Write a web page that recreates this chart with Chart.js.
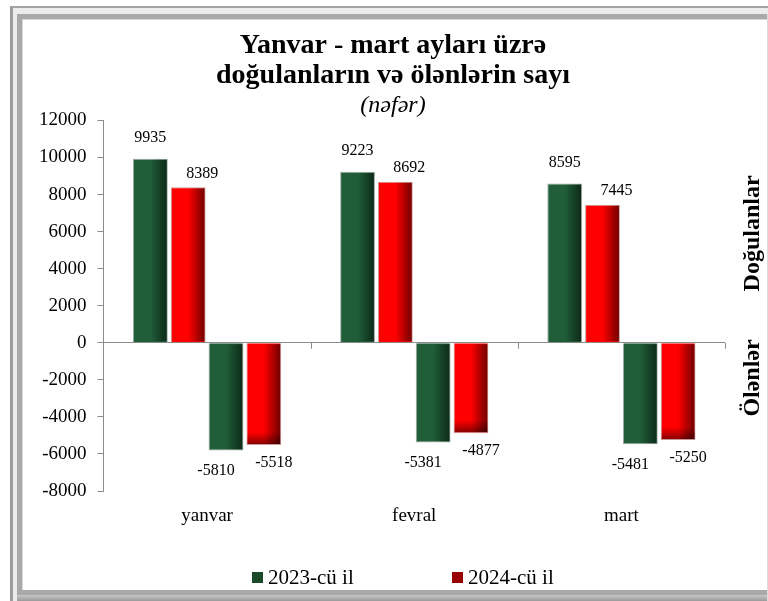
<!DOCTYPE html>
<html>
<head>
<meta charset="utf-8">
<script src="https://cdn.jsdelivr.net/npm/chart.js@4/dist/chart.umd.min.js"></script>
<style>
  html, body { margin: 0; padding: 0; background: #ffffff; width: 768px; height: 601px; overflow: hidden; }
  .outer { position: absolute; left: 10px; top: 6px; width: 780px; height: 610px; box-sizing: border-box;
           border-left: 3px solid #9c9c9c; border-top: 2px solid #a4a4a4; background: #ececec; }
  .inner { position: absolute; left: 17px; top: 14px; width: 760px; height: 581px; box-sizing: border-box;
           border: 5px solid #a9a9a9; background: #ffffff;
           box-shadow: inset 1px 1px 0 #d6d6d6; }
  .edge  { position: absolute; right: 0; top: 14px; width: 1px; height: 587px; background: #dcdcdc; }
  .bottom { position: absolute; left: 17px; top: 595px; width: 760px; height: 6px; background: linear-gradient(#c8c8c8, #9a9a9a); }
  #wrap { position: absolute; left: 0; top: 0; width: 768px; height: 601px; }
</style>
</head>
<body>
<div class="outer"></div>
<div class="inner"></div>
<div class="bottom"></div>
<div class="edge"></div>
<div id="wrap"><canvas id="c"></canvas></div>
<script>
// ---- data ----
const CATEGORIES = ['yanvar', 'fevral', 'mart'];
const BIRTHS_2023 = [9935, 9223, 8595];
const BIRTHS_2024 = [8389, 8692, 7445];
const DEATHS_2023 = [-5810, -5381, -5481];
const DEATHS_2024 = [-5518, -4877, -5250];
const SERIES_LABELS = ['2023-cü il', '2024-cü il'];
const TITLE_LINES = ['Yanvar - mart ayları üzrə', 'doğulanların və ölənlərin sayı'];
const SUBTITLE = '(nəfər)';
const SIDE_LABELS = ['Doğulanlar', 'Ölənlər'];
const Y_MIN = -8000, Y_MAX = 12000, Y_STEP = 2000;

const SERIF = "'Liberation Serif', 'Times New Roman', serif";
const GREEN = '#1f5e38';
const RED = '#ff0000';
const LEGEND_COLORS = ['#1b4a2b', '#990000'];

// shading of bars (darker right edge, like the 3-D look of the original)
const shadePlugin = {
  id: 'shade',
  afterDatasetsDraw(chart) {
    const ctx = chart.ctx;
    chart.data.datasets.forEach((ds, di) => {
      const meta = chart.getDatasetMeta(di);
      meta.data.forEach(el => {
        const l = el.x - el.width / 2 + 1, r = el.x + el.width / 2 - 1;
        const t = Math.min(el.y, el.base) + 1, b = Math.max(el.y, el.base) - 1;
        const g = ctx.createLinearGradient(l, 0, r, 0);
        g.addColorStop(0, 'rgba(0,0,0,0)');
        g.addColorStop(0.5, 'rgba(0,0,0,0)');
        g.addColorStop(1, 'rgba(0,0,0,0.55)');
        ctx.save();
        ctx.fillStyle = g;
        ctx.fillRect(l, t, r - l, b - t);
        if (ds.negShade && el.y > el.base) {
          const gv = ctx.createLinearGradient(0, b - 12, 0, b);
          gv.addColorStop(0, 'rgba(0,0,0,0)');
          gv.addColorStop(1, 'rgba(0,0,0,0.45)');
          ctx.fillStyle = gv;
          ctx.fillRect(l, b - 12, r - l, 12);
        }
        ctx.restore();
      });
    });
  }
};

// value labels
const valuePlugin = {
  id: 'values',
  afterDatasetsDraw(chart) {
    const ctx = chart.ctx;
    ctx.save();
    ctx.font = '16px ' + SERIF;
    ctx.fillStyle = '#000';
    ctx.textAlign = 'center';
    ctx.textBaseline = 'middle';
    chart.data.datasets.forEach((ds, di) => {
      const meta = chart.getDatasetMeta(di);
      meta.data.forEach((el, i) => {
        ctx.fillText(String(ds.data[i]), el.x + ds.lblDx, el.y + ds.lblDy);
      });
    });
    ctx.restore();
  }
};

// zero-line category ticks, side labels and legend
const extrasPlugin = {
  id: 'extras',
  afterDraw(chart) {
    const ctx = chart.ctx;
    const xs = chart.scales.x, ys = chart.scales.y;
    const y0 = ys.getPixelForValue(0);
    ctx.save();
    ctx.strokeStyle = '#8c8c8c';
    ctx.lineWidth = 1;
    for (let i = 0; i < CATEGORIES.length; i++) {
      const xb = i < CATEGORIES.length - 1
        ? (xs.getPixelForValue(i) + xs.getPixelForValue(i + 1)) / 2
        : chart.chartArea.right;
      const px = Math.round(xb) + 0.5;
      ctx.beginPath();
      ctx.moveTo(px, y0);
      ctx.lineTo(px, y0 + 6);
      ctx.stroke();
    }
    // side labels
    ctx.fillStyle = '#000';
    ctx.font = 'bold 24px ' + SERIF;
    ctx.textAlign = 'center';
    ctx.textBaseline = 'middle';
    const sx = chart.chartArea.right + 28;
    [[SIDE_LABELS[0], 5900], [SIDE_LABELS[1], -1900]].forEach(([t, v]) => {
      ctx.save();
      ctx.translate(sx, ys.getPixelForValue(v));
      ctx.rotate(-Math.PI / 2);
      ctx.fillText(t, 0, 0);
      ctx.restore();
    });
    // legend
    ctx.font = '21px ' + SERIF;
    ctx.textAlign = 'left';
    const ly = 578;
    const starts = [252, 452];
    SERIES_LABELS.forEach((t, i) => {
      ctx.fillStyle = LEGEND_COLORS[i];
      ctx.fillRect(starts[i], ly - 6, 11, 11);
      ctx.fillStyle = '#000';
      ctx.fillText(t, starts[i] + 16, ly);
    });
    ctx.restore();
  }
};

new Chart(document.getElementById('c'), {
  type: 'bar',
  data: {
    labels: CATEGORIES,
    datasets: [
      { label: SERIES_LABELS[0], data: BIRTHS_2023, backgroundColor: GREEN, borderColor: '#9aa89f', borderWidth: 1, lblDx: 0, lblDy: -21 },
      { label: SERIES_LABELS[1], data: BIRTHS_2024, backgroundColor: RED, borderColor: '#c89a9a', borderWidth: 1, lblDx: 14, lblDy: -14 },
      { label: SERIES_LABELS[0], data: DEATHS_2023, backgroundColor: GREEN, borderColor: '#9aa89f', borderWidth: 1, lblDx: -10, lblDy: 20 },
      { label: SERIES_LABELS[1], data: DEATHS_2024, backgroundColor: RED, borderColor: '#c89a9a', borderWidth: 1, lblDx: 10, lblDy: 18, negShade: true }
    ]
  },
  options: {
    responsive: true,
    maintainAspectRatio: false,
    animation: false,
    categoryPercentage: 0.73,
    barPercentage: 0.92,
    layout: { padding: { left: 28, right: 10, top: 14, bottom: 60 } },
    plugins: {
      legend: { display: false },
      tooltip: { enabled: false },
      title: {
        display: true,
        text: TITLE_LINES,
        color: '#000',
        font: { family: SERIF, size: 28, weight: 'bold', lineHeight: 1.1 },
        padding: { top: 16, bottom: 0 }
      },
      subtitle: {
        display: true,
        text: SUBTITLE,
        color: '#000',
        font: { family: SERIF, size: 24, style: 'italic', lineHeight: 1.2 },
        padding: { top: 0, bottom: 0 }
      }
    },
    scales: {
      x: {
        grid: { display: false, drawTicks: false },
        border: { display: false },
        ticks: { color: '#000', font: { family: SERIF, size: 19 }, padding: 13.6 }
      },
      y: {
        min: Y_MIN, max: Y_MAX,
        ticks: { stepSize: Y_STEP, color: '#000', font: { family: SERIF, size: 19 }, padding: 11,
                 callback: v => String(v) },
        grid: {
          drawOnChartArea: true,
          color: c => (c.tick && c.tick.value === 0) ? '#8c8c8c' : 'rgba(0,0,0,0)',
          tickColor: '#8c8c8c', tickLength: 6, lineWidth: 1
        },
        border: { display: true, color: '#8c8c8c' }
      },
      y2: {
        position: 'right',
        display: true,
        grid: { display: false, drawTicks: false },
        border: { display: false },
        ticks: { display: false },
        afterFit: s => { s.width = 33; }
      }
    }
  },
  plugins: [shadePlugin, valuePlugin, extrasPlugin]
});
</script>
</body>
</html>
